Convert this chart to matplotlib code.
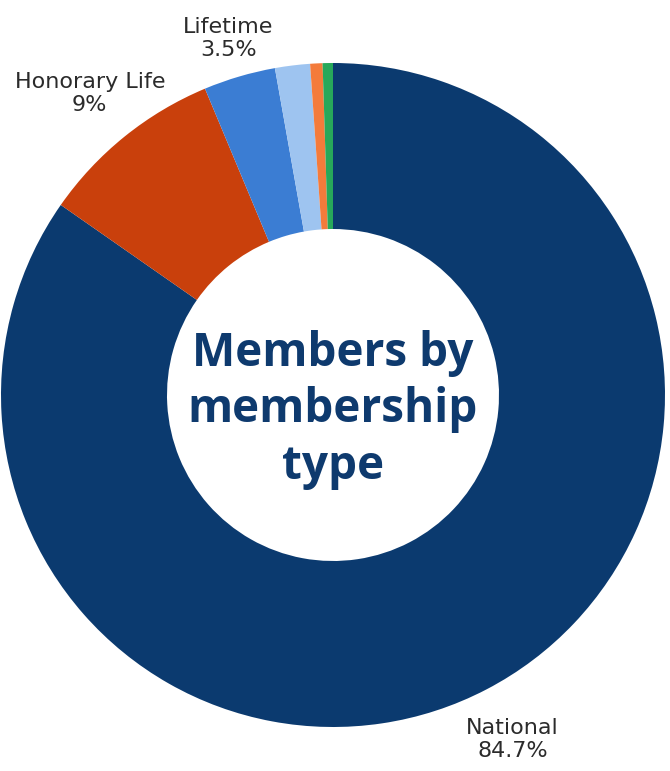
import matplotlib
matplotlib.use("Agg")
import matplotlib.pyplot as plt
import numpy as np

categories = ["National", "Honorary Life", "Lifetime", "Other A", "Other B", "Other C"]
values = [84.7, 9.0, 3.5, 1.7, 0.6, 0.5]
labels_shown = ["National\n84.7%", "Honorary Life\n9%", "Lifetime\n3.5%", None, None, None]
colors = ["#0B3A6F", "#C9400C", "#3B7DD3", "#9EC4F0", "#F47B3B", "#27A85A"]
label_dist = [1.17, 1.167, 1.118, None, None, None]

W, H = 670, 771
cx, cy, R = 333, 395, 332

fig = plt.figure(figsize=(W / 100, H / 100), dpi=100)
ax = fig.add_axes([0, 0, 1, 1])
wedges, _ = ax.pie(values, colors=colors, startangle=90, counterclock=False,
                   radius=1.0, wedgeprops=dict(width=0.5, linewidth=0))

for w, lab, d in zip(wedges, labels_shown, label_dist):
    if lab is None:
        continue
    mid = np.deg2rad((w.theta1 + w.theta2) / 2)
    ax.text(d * np.cos(mid), d * np.sin(mid), lab, ha="center", va="center",
            fontsize=16, color="#2b2b2b", family="DejaVu Sans", linespacing=1.2)

ax.text(0, -0.045, "Members by\nmembership\ntype", ha="center", va="center",
        fontsize=33, fontweight="bold", color="#0E3A6E", family="Open Sans",
        linespacing=1.27)

ax.set_xlim(-cx / R, (W - cx) / R)
ax.set_ylim(-(H - cy) / R, cy / R)
ax.set_aspect("auto")
ax.axis("off")
fig.savefig("out.png", dpi=100, facecolor="white")
